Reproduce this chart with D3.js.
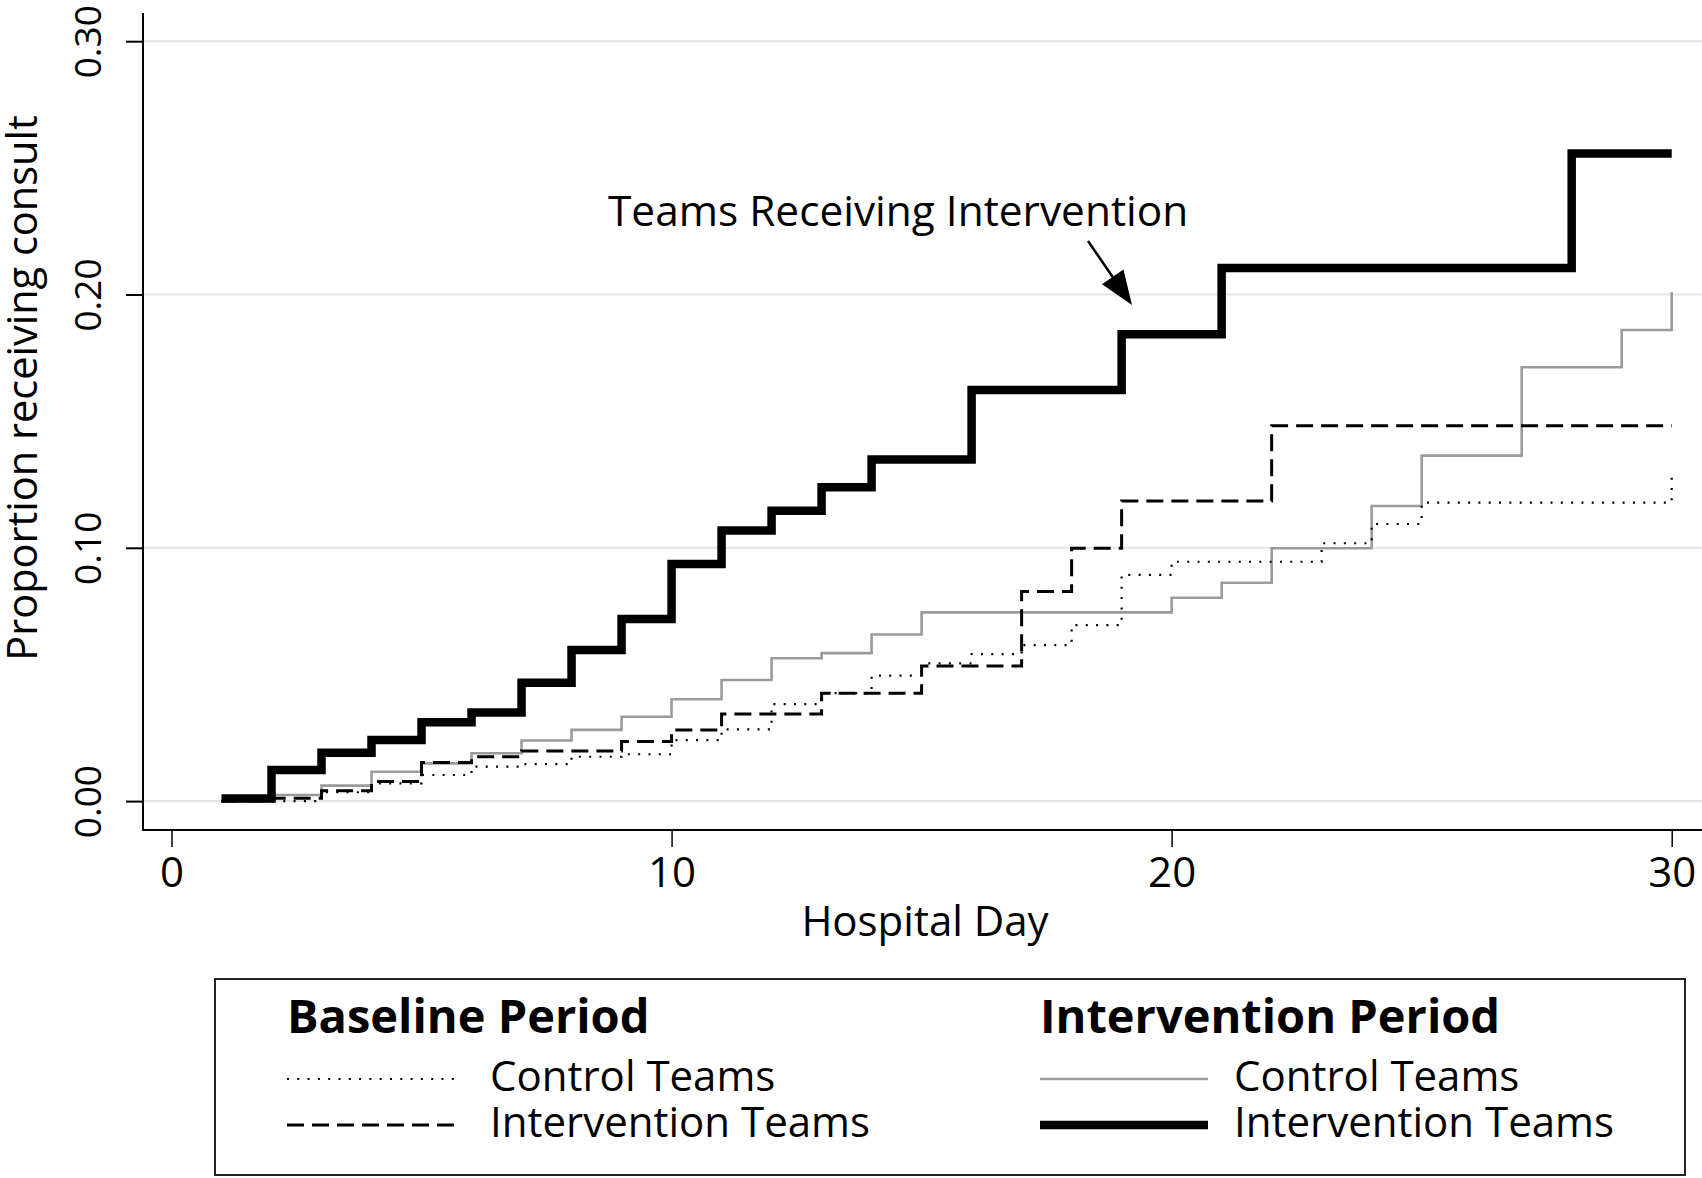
<!DOCTYPE html>
<html>
<head>
<meta charset="utf-8">
<script src="https://cdn.jsdelivr.net/npm/d3@7"></script>
<style>
  html, body { margin: 0; padding: 0; background: #fff; }
  svg { display: block; }
  text { font-family: "Open Sans", "Noto Sans", sans-serif; fill: #000; }
</style>
</head>
<body>
<svg id="chart" width="1702" height="1178"></svg>
<script>
// ---------- data ----------
const days = [1,2,3,4,5,6,7,8,9,10,11,12,13,14,15,16,17,18,19,20,21,22,23,24,25,26,27,28,29,30];

// Baseline period, control teams (dotted)
const baselineControl = [0.000,0.000,0.0035,0.0070,0.0103,0.0136,0.0146,0.0175,0.0185,0.0241,
  0.0283,0.0383,0.0426,0.0495,0.0544,0.0580,0.0616,0.0695,0.0893,0.0945,
  0.0945,0.0945,0.1018,0.1094,0.1178,0.1178,0.1178,0.1178,0.1178,0.1300];

// Baseline period, intervention teams (dashed)
const baselineIntervention = [0.000,0.0011,0.0041,0.0077,0.0152,0.0175,0.0198,0.0198,0.0235,0.0281,
  0.0344,0.0344,0.0426,0.0426,0.0533,0.0533,0.0827,0.0998,0.1185,0.1185,
  0.1185,0.1482,0.1482,0.1482,0.1482,0.1482,0.1482,0.1482,0.1482,0.1482];

// Intervention period, control teams (grey)
const interventionControl = [0.000,0.0024,0.0061,0.0116,0.0149,0.0189,0.0239,0.0281,0.0333,0.0402,
  0.0478,0.0564,0.0584,0.0658,0.0745,0.0745,0.0745,0.0745,0.0745,0.0803,
  0.0862,0.0998,0.0998,0.1165,0.1364,0.1364,0.1713,0.1713,0.1860,0.2009];

// Intervention period, intervention teams (thick black)
const interventionIntervention = [0.001,0.0123,0.0191,0.0241,0.0311,0.0350,0.0467,0.0597,0.0719,0.0936,
  0.1068,0.1146,0.1239,0.1349,0.1349,0.1623,0.1623,0.1623,0.1843,0.1843,
  0.2105,0.2105,0.2105,0.2105,0.2105,0.2105,0.2105,0.2557,0.2557,0.2557];

const xTicks = [0, 10, 20, 30];
const yTicks = [0.00, 0.10, 0.20, 0.30];
const xTitle = "Hospital Day";
const yTitle = "Proportion receiving consult";
const annotation = "Teams Receiving Intervention";
const legendGroups = ["Baseline Period", "Intervention Period"];
const legendLabels = ["Control Teams", "Intervention Teams"];

// ---------- layout ----------
const svg = d3.select("#chart");
const W = 1702, H = 1178;
const axisX = 143, axisY = 830, plotRight = 1702, plotTop = 13;

const x = d3.scaleLinear().domain([0, 30]).range([171.5, 1671.7]);
const y = d3.scaleLinear().domain([0, 0.30]).range([801.1, 41.2]);

svg.append("rect").attr("width", W).attr("height", H).attr("fill", "#fff");

// gridlines
svg.append("g").selectAll("line").data(yTicks).join("line")
  .attr("x1", axisX).attr("x2", plotRight)
  .attr("y1", d => y(d)).attr("y2", d => y(d))
  .attr("stroke", "#e4e4e4").attr("stroke-width", 2);

// y axis
const yAxis = svg.append("g").attr("transform", `translate(${axisX},0)`)
  .call(d3.axisLeft(y).tickValues(yTicks).tickFormat(d3.format(".2f")).tickSize(17).tickSizeOuter(0));
yAxis.select(".domain").remove();
yAxis.selectAll(".tick line").attr("stroke", "#000").attr("stroke-width", 2);
yAxis.selectAll(".tick text")
  .attr("transform", "rotate(-90)")
  .attr("x", 0).attr("y", -42).attr("dy", 0)
  .attr("text-anchor", "middle")
  .style("font-size", "37px").style("font-family", "'Open Sans', sans-serif");
svg.append("line").attr("x1", axisX).attr("x2", axisX).attr("y1", plotTop).attr("y2", axisY + 1)
  .attr("stroke", "#000").attr("stroke-width", 2);

// x axis
const xAxis = svg.append("g").attr("transform", `translate(0,${axisY})`)
  .call(d3.axisBottom(x).tickValues(xTicks).tickFormat(d3.format("d")).tickSize(17).tickSizeOuter(0));
xAxis.select(".domain").remove();
xAxis.selectAll(".tick line").attr("stroke", "#000").attr("stroke-width", 1.5);
xAxis.selectAll(".tick text")
  .attr("y", 57).attr("dy", 0)
  .style("font-size", "42px").style("font-family", "'Open Sans', sans-serif");
svg.append("line").attr("x1", axisX - 1).attr("x2", plotRight).attr("y1", axisY).attr("y2", axisY)
  .attr("stroke", "#000").attr("stroke-width", 2);

// axis titles
svg.append("text").attr("x", 925).attr("y", 936).attr("text-anchor", "middle")
  .style("font-size", "42px").text(xTitle);
svg.append("text").attr("transform", "translate(37,388) rotate(-90)").attr("text-anchor", "middle")
  .style("font-size", "41.5px").text(yTitle);

// ---------- series ----------
const line = d3.line().x(d => x(d[0])).y(d => y(d[1])).curve(d3.curveStepAfter);
const seriesDefs = [
  { values: interventionControl, stroke: "#9b9b9b", width: 2.6, dash: null },
  { values: baselineControl, stroke: "#000", width: 2.2, dash: "2,8.3" },
  { values: baselineIntervention, stroke: "#000", width: 3, dash: "17,8" },
  { values: interventionIntervention, stroke: "#000", width: 8.5, dash: null }
];
const plot = svg.append("g");
seriesDefs.forEach(s => {
  plot.append("path")
    .datum(days.map((d, i) => [d, s.values[i]]))
    .attr("d", line)
    .attr("fill", "none")
    .attr("stroke", s.stroke)
    .attr("stroke-width", s.width)
    .attr("stroke-dasharray", s.dash)
    .attr("stroke-linejoin", "miter")
    .attr("stroke-linecap", "butt");
});

// ---------- annotation ----------
svg.append("text").attr("x", 608).attr("y", 226).style("font-size", "42.4px").text(annotation);
const ax1 = 1088, ay1 = 241, ax2 = 1132, ay2 = 305;
const ang = Math.atan2(ay2 - ay1, ax2 - ax1);
const hl = 34, hw = 13;
const bx = ax2 - hl * Math.cos(ang), by = ay2 - hl * Math.sin(ang);
svg.append("line").attr("x1", ax1).attr("y1", ay1).attr("x2", bx).attr("y2", by)
  .attr("stroke", "#000").attr("stroke-width", 2.5);
svg.append("path")
  .attr("d", `M${ax2},${ay2} L${bx - hw * Math.sin(ang)},${by + hw * Math.cos(ang)} L${bx + hw * Math.sin(ang)},${by - hw * Math.cos(ang)} Z`)
  .attr("fill", "#000");

// ---------- legend ----------
const lg = svg.append("g");
lg.append("rect").attr("x", 215).attr("y", 979).attr("width", 1470).attr("height", 196)
  .attr("fill", "#fff").attr("stroke", "#222").attr("stroke-width", 2);
const cols = [
  { x: 287, textX: 490, items: [seriesDefs[1], seriesDefs[2]] },
  { x: 1040, textX: 1234, items: [seriesDefs[0], seriesDefs[3]] }
];
cols.forEach((c, ci) => {
  lg.append("text").attr("x", c.x).attr("y", 1033)
    .style("font-size", "47px").style("font-weight", "bold").text(legendGroups[ci]);
  c.items.forEach((s, ri) => {
    const ly = 1079 + ri * 46;
    lg.append("line").attr("x1", c.x).attr("x2", c.x + 168).attr("y1", ly).attr("y2", ly)
      .attr("stroke", s.stroke).attr("stroke-width", s.width).attr("stroke-dasharray", s.dash);
    lg.append("text").attr("x", c.textX).attr("y", ly + 12)
      .style("font-size", "42px").text(legendLabels[ri]);
  });
});
</script>
</body>
</html>
